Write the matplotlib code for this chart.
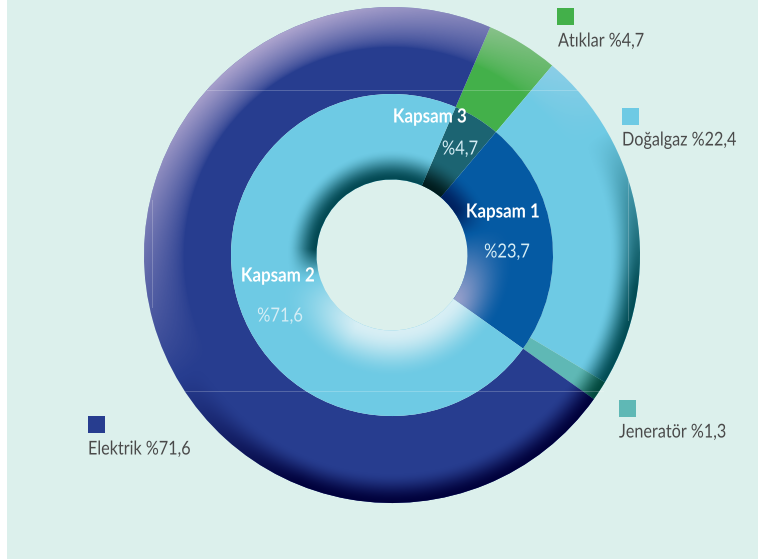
import numpy as np
import matplotlib
matplotlib.use("Agg")
import matplotlib.pyplot as plt
from matplotlib.patches import Rectangle
from matplotlib.patheffects import AbstractPathEffect
from matplotlib.transforms import Affine2D

W, H = 758, 559
CX, CY = 392, 255

outer_labels = ["Atıklar", "Doğalgaz", "Jeneratör", "Elektrik"]
outer_values = [4.7, 22.4, 1.3, 71.6]
outer_colors = ["#43b04a", "#6ecae4", "#5fb8b5", "#273d8f"]
outer_dark = ["#1f6b30", "#004a52", "#00463c", "#00003a"]

inner_labels = ["Kapsam 3", "Kapsam 1", "Kapsam 2"]
inner_values = [4.7, 23.7, 71.6]
inner_colors = ["#1c6472", "#055aa3", "#6ecae4"]
inner_dark = ["#001a1c", "#00205f", "#00454f"]
inner_light = ["#6fa0a8", "#a8a8d0", "#e4f3f8"]

START_CW = 23.3
R_OUT, R_MID, R_HOLE = 248, 161, 75.5

plt.rcParams["font.family"] = ["Lato", "DejaVu Sans"]


class Squeeze(AbstractPathEffect):
    # narrows glyphs around a fixed x, the original face is a condensed one
    def __init__(self, x0, factor):
        super().__init__()
        self.x0 = x0
        self.factor = factor

    def draw_path(self, renderer, gc, tpath, affine, rgbFace=None):
        squeeze = Affine2D().translate(-self.x0, 0).scale(self.factor, 1).translate(self.x0, 0)
        renderer.draw_path(gc, tpath, affine + squeeze, rgbFace)


def px(x, y):
    return x - CX, CY - y


def smooth(t):
    t = np.clip(t, 0, 1)
    return t * t * (3 - 2 * t)


yy, xx = np.mgrid[-260:260:1040j, -260:260:1040j]
rr = np.hypot(xx, yy)
theta = np.degrees(np.arctan2(xx, yy)) % 360


def overlay(ax, wedge, light, dark, s, a_light, a_dark):
    img = np.zeros(xx.shape + (4,))
    pos = s > 0
    neg = ~pos
    img[..., :3][pos] = matplotlib.colors.to_rgb(light)
    img[..., :3][neg] = matplotlib.colors.to_rgb(dark)
    img[..., 3][pos] = a_light[pos]
    img[..., 3][neg] = a_dark[neg]
    im = ax.imshow(img, extent=(-260, 260, -260, 260), origin="lower", interpolation="bilinear", zorder=wedge.get_zorder() + 0.1)
    im.set_clip_path(wedge)


fig = plt.figure(figsize=(W / 100, H / 100), dpi=100, facecolor="white")
ax = fig.add_axes([0, 0, 1, 1])

# outer ring, then the inner one on top
start = 90 - START_CW
out_w, _ = ax.pie(outer_values, colors=outer_colors, radius=R_OUT, startangle=start, counterclock=False,
                  normalize=True, wedgeprops=dict(width=R_OUT - R_MID, linewidth=0))
in_w, _ = ax.pie(inner_values, colors=inner_colors, radius=R_MID, startangle=start, counterclock=False,
                 normalize=True, wedgeprops=dict(width=R_MID - R_HOLE, linewidth=0))

s_out = np.cos(np.radians(theta - 330))
a_l = np.clip(0.65 * s_out, 0, 1) * np.clip(1 - (R_OUT - rr) / 40, 0, 1) ** 0.7
a_d = np.clip(-1.6 * s_out, 0, 0.98) * smooth(1 - (R_OUT - rr) / 30)
for w, dk in zip(out_w, outer_dark):
    overlay(ax, w, "#f8ddf1", dk, s_out, a_l, a_d)

s_in = np.cos(np.radians(theta - 345))
a_d2 = np.clip(3 * s_in, 0, 0.98) * smooth(1 - (rr - R_HOLE) / 30)
a_l2 = np.clip(-1.2 * s_in, 0, 0.9) * smooth(1 - (rr - R_HOLE) / 48)
for w, dk, lt in zip(in_w, inner_dark, inner_light):
    overlay(ax, w, dk, lt, s_in, a_d2, a_l2)

ax.set_xlim(-CX, W - CX)
ax.set_ylim(CY - H, CY)
ax.set_aspect("equal")
ax.set_axis_off()

x0, y0 = px(7, H)
ax.add_patch(Rectangle((x0, y0), W, H, facecolor="#dcf0ec", edgecolor="none", zorder=0))

# faint crop lines left in the artwork
for (xa, ya), (xb, yb) in [((207, 90), (577, 90)), ((185, 391), (603, 391)), ((152, 200), (152, 307)), ((628, 180), (628, 320))]:
    ax.plot(*zip(px(xa, ya), px(xb, yb)), color="white", lw=0.7, alpha=0.22, zorder=5)

legend_names = ["Atıklar %4,7", "Doğalgaz %22,4", "Jeneratör %1,3", "Elektrik %71,6"]
legend_colors = ["#43b04a", "#6ecae4", "#5fb8b5", "#273d8f"]
legend_box = [(557, 8), (622, 108), (619, 400), (88, 416)]
legend_text = [(558, 41), (622, 140), (619, 432), (88, 449)]
for name, col, (bx, by), (tx, ty) in zip(legend_names, legend_colors, legend_box, legend_text):
    ax.add_patch(Rectangle(px(bx, by + 17), 17, 17, facecolor=col, edgecolor="none", zorder=6))
    ax.text(*px(tx, ty), name, color="#4a4a4a", fontsize=13.7, va="center", ha="left", zorder=6,
            path_effects=[Squeeze(tx, 0.85)])

scope_names = ["Kapsam 3", "Kapsam 1", "Kapsam 2"]
scope_pos = [(430, 117), (503, 212), (278, 276)]
pct_names = ["%4,7", "%23,7", "%71,6"]
pct_pos = [(460, 149), (507, 252), (280, 316)]
for name, pos in zip(scope_names, scope_pos):
    ax.text(*px(*pos), name, color="white", fontsize=14, fontweight="bold", ha="center", va="center", zorder=7,
            path_effects=[Squeeze(pos[0], 0.87)])
for name, pos in zip(pct_names, pct_pos):
    ax.text(*px(*pos), name, color="#d5edf5", fontsize=14, ha="center", va="center", zorder=7,
            path_effects=[Squeeze(pos[0], 0.85)])

fig.savefig("out.png", dpi=100)
